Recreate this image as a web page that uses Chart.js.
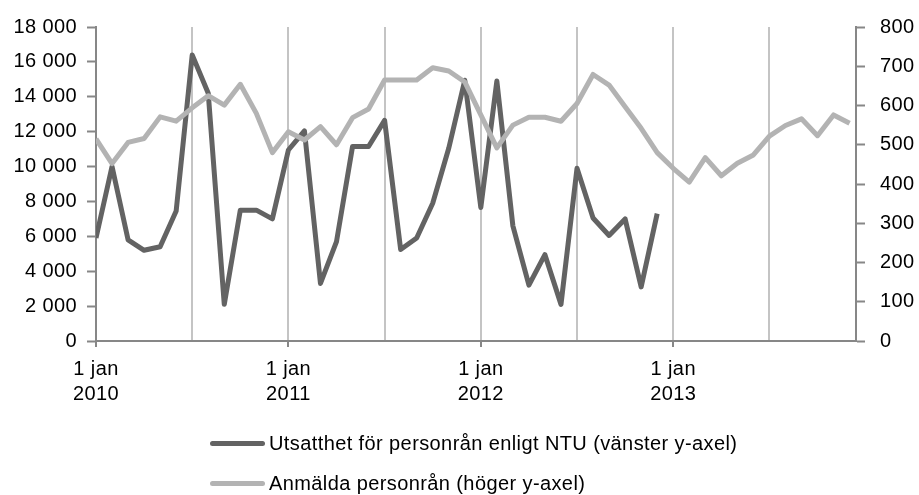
<!DOCTYPE html>
<html>
<head>
<meta charset="utf-8">
<script src="https://cdn.jsdelivr.net/npm/chart.js@4.4.1/dist/chart.umd.min.js"></script>
<style>
  html, body { margin: 0; padding: 0; background: #fff; }
  #wrap { position: relative; width: 919px; height: 495px; }
  #c { position: absolute; left: 0; top: 0; }
  #legend { position: absolute; left: 210px; top: 423px; font-family: "Liberation Sans", Arial, sans-serif; font-size: 20px; letter-spacing: 0.4px; color: #000; }
  .row { display: flex; align-items: center; height: 40px; white-space: nowrap; }
  .sw { width: 55px; height: 5px; border-radius: 3px; margin-right: 4px; flex: none; }
</style>
</head>
<body>
<div id="wrap">
  <canvas id="c" width="919" height="495"></canvas>
  <div id="legend"></div>
</div>
<script>
// ---- Data ----
const months = [
  'jan 2010','feb 2010','mar 2010','apr 2010','maj 2010','jun 2010','jul 2010','aug 2010','sep 2010','okt 2010','nov 2010','dec 2010',
  'jan 2011','feb 2011','mar 2011','apr 2011','maj 2011','jun 2011','jul 2011','aug 2011','sep 2011','okt 2011','nov 2011','dec 2011',
  'jan 2012','feb 2012','mar 2012','apr 2012','maj 2012','jun 2012','jul 2012','aug 2012','sep 2012','okt 2012','nov 2012','dec 2012',
  'jan 2013','feb 2013','mar 2013','apr 2013','maj 2013','jun 2013','jul 2013','aug 2013','sep 2013','okt 2013','nov 2013','dec 2013'
];
const yearLabels = ['2010', '2011', '2012', '2013'];
const tickPrefix = '1 jan';

// Utsatthet för personrån enligt NTU (left axis), jan 2010 – dec 2012
const ntuValues = [
  5900, 10000, 5800, 5200, 5400, 7450, 16400, 14200, 2100, 7500, 7500, 7000,
  10950, 12050, 3300, 5700, 11150, 11150, 12650, 5250, 5900, 7900, 11050, 14950,
  7650, 14900, 6600, 3200, 4950, 2100, 9900, 7050, 6050, 7000, 3100, 7300
];
// Anmälda personrån (right axis), jan 2010 – dec 2013
const reportedValues = [
  515, 452, 506, 516, 571, 560, 594, 625, 601, 654, 580, 480,
  533, 512, 546, 500, 569, 591, 665, 665, 665, 696, 688, 660,
  576, 492, 550, 570, 570, 560, 605, 679, 652, 597, 542, 480,
  440, 405, 467, 421, 453, 474, 522, 549, 566, 523, 576, 555
];
const seriesNames = [
  'Utsatthet för personrån enligt NTU (vänster y-axel)',
  'Anmälda personrån (höger y-axel)'
];
const seriesColors = ['#636363', '#b3b3b3'];

// ---- Chart ----
const FONT = '"Liberation Sans", Arial, sans-serif';
Chart.defaults.font.family = FONT;
Chart.defaults.font.size = 20;
Chart.defaults.color = '#000';

const AXIS = '#878787';
const GRID = '#c4c4c4';

function fmtThousands(v) {
  return String(v).replace(/\B(?=(\d{3})+(?!\d))/g, ' ');
}

const spacingPlugin = {
  id: 'letterSpacing',
  beforeDraw(chart) { chart.ctx.letterSpacing = '0.4px'; }
};

const htmlLegend = {
  id: 'htmlLegend',
  afterUpdate(chart) {
    const box = document.getElementById('legend');
    box.innerHTML = '';
    chart.data.datasets.forEach(ds => {
      const row = document.createElement('div');
      row.className = 'row';
      const sw = document.createElement('span');
      sw.className = 'sw';
      sw.style.background = ds.borderColor;
      const tx = document.createElement('span');
      tx.textContent = ds.label;
      row.appendChild(sw);
      row.appendChild(tx);
      box.appendChild(row);
    });
  }
};

new Chart(document.getElementById('c'), {
  type: 'line',
  data: {
    labels: months,
    datasets: [
      {
        label: seriesNames[0],
        data: ntuValues.map((v, i) => ({ x: i, y: v })),
        yAxisID: 'yL',
        borderColor: seriesColors[0],
        backgroundColor: seriesColors[0],
        borderWidth: 5,
        pointRadius: 0,
        tension: 0,
        borderJoinStyle: 'round',
        fill: false,
        order: 1
      },
      {
        label: seriesNames[1],
        data: reportedValues.map((v, i) => ({ x: i, y: v })),
        yAxisID: 'yR',
        borderColor: seriesColors[1],
        backgroundColor: seriesColors[1],
        borderWidth: 5,
        pointRadius: 0,
        tension: 0,
        borderJoinStyle: 'round',
        fill: false,
        order: 0
      }
    ]
  },
  options: {
    responsive: false,
    animation: false,
    layout: { padding: { top: 24, bottom: 84, left: 0, right: 0 } },
    plugins: {
      legend: { display: false },
      tooltip: { enabled: false }
    },
    scales: {
      x: {
        type: 'linear',
        min: 0,
        max: 47.4,
        afterFit(scale) { scale.height = 70; },
        border: { color: AXIS, width: 2 },
        grid: {
          color: ctx => (ctx.tick && ctx.tick.value === 0) ? 'rgba(0,0,0,0)' : GRID,
          lineWidth: 2,
          drawTicks: true,
          tickLength: 6,
          tickWidth: 2,
          tickColor: ctx => (ctx.tick && ctx.tick.value % 12 === 0) ? AXIS : 'rgba(0,0,0,0)'
        },
        ticks: {
          stepSize: 6,
          autoSkip: false,
          includeBounds: false,
          maxRotation: 0,
          minRotation: 0,
          padding: 10,
          font: { size: 20, lineHeight: 1.25 },
          callback: v => (v % 12 === 0 && yearLabels[v / 12]) ? [tickPrefix, yearLabels[v / 12]] : ''
        }
      },
      yL: {
        type: 'linear',
        position: 'left',
        min: 0,
        max: 18000,
        afterFit(scale) { scale.width = 96; },
        border: { color: AXIS, width: 2 },
        grid: { drawOnChartArea: false, drawTicks: true, tickLength: 9, tickWidth: 2, tickColor: AXIS },
        ticks: { stepSize: 2000, padding: 10, callback: v => fmtThousands(v) }
      },
      yR: {
        type: 'linear',
        position: 'right',
        min: 0,
        max: 800,
        afterFit(scale) { scale.width = 63; },
        border: { color: AXIS, width: 2 },
        grid: { drawOnChartArea: false, drawTicks: true, tickLength: 9, tickWidth: 2, tickColor: AXIS },
        ticks: { stepSize: 100, padding: 15, callback: v => String(v) }
      }
    }
  },
  plugins: [spacingPlugin, htmlLegend]
});
</script>
</body>
</html>
